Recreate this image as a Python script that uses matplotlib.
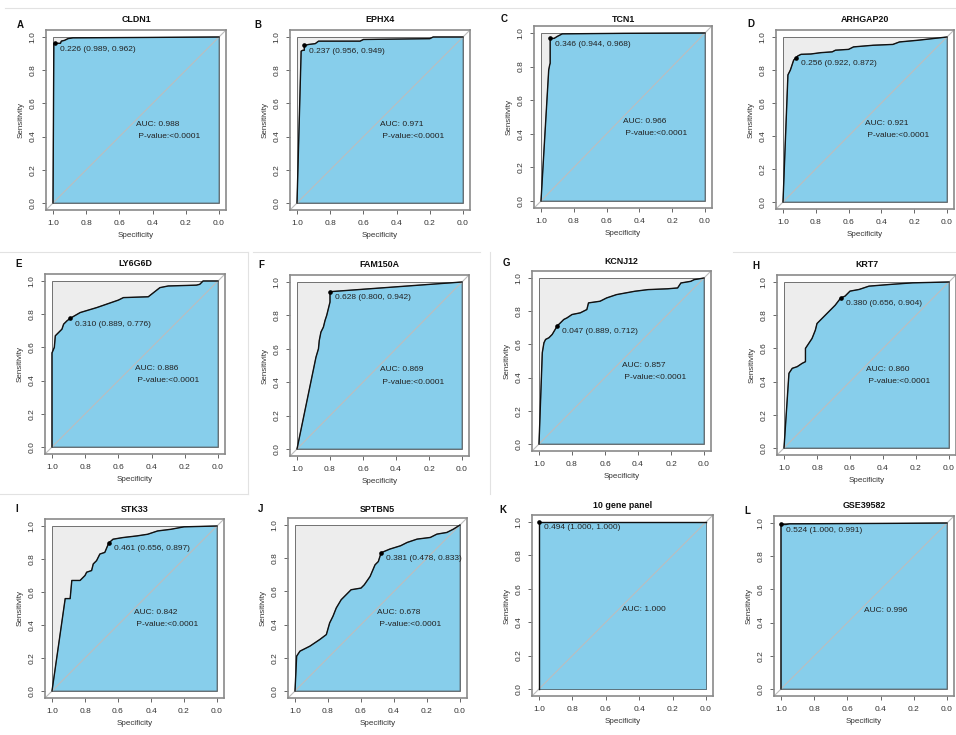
import matplotlib
matplotlib.use("Agg")
import matplotlib.pyplot as plt
import numpy as np

plt.rcParams['font.family'] = ['Liberation Sans', 'DejaVu Sans']

# ROC curves (specificity, sensitivity)
cldn1_spec = [1.0, 0.995, 0.989, 0.955, 0.95, 0.93, 0.91, 0.88, 0.5, 0.0]
cldn1_sens = [0.0, 0.96, 0.962, 0.962, 0.975, 0.98, 0.99, 0.995, 0.997, 1.0]

ephx4_spec = [1.0, 0.975, 0.965, 0.956, 0.956, 0.93, 0.89, 0.87, 0.62, 0.60, 0.20, 0.18, 0.0]
ephx4_sens = [0.0, 0.915, 0.92, 0.92, 0.949, 0.955, 0.96, 0.975, 0.975, 0.985, 0.99, 1.0, 1.0]

tcn1_spec = [1.0, 0.953, 0.947, 0.944, 0.944, 0.92, 0.90, 0.87, 0.5, 0.0]
tcn1_sens = [0.0, 0.78, 0.81, 0.82, 0.968, 0.968, 0.98, 0.995, 0.998, 1.0]

arhgap20_spec = [1.0, 0.97, 0.965, 0.955, 0.945, 0.935, 0.922, 0.91, 0.89, 0.83, 0.77, 0.70,
                 0.68, 0.60, 0.57, 0.45, 0.33, 0.29, 0.18, 0.0]
arhgap20_sens = [0.0, 0.77, 0.78, 0.80, 0.83, 0.86, 0.872, 0.885, 0.895, 0.897, 0.905, 0.91,
                 0.92, 0.925, 0.94, 0.95, 0.955, 0.97, 0.98, 1.0]

ly6g6d_spec = [1.0, 1.0, 0.986, 0.98, 0.96, 0.94, 0.93, 0.91, 0.889, 0.83, 0.73, 0.60, 0.57,
               0.42, 0.35, 0.30, 0.13, 0.11, 0.09, 0.0]
ly6g6d_sens = [0.0, 0.567, 0.60, 0.67, 0.69, 0.71, 0.74, 0.76, 0.776, 0.81, 0.84, 0.885, 0.90,
               0.905, 0.96, 0.97, 0.975, 0.98, 1.0, 1.0]

fam150a_spec = [1.0, 0.885, 0.87, 0.865, 0.855, 0.84, 0.83, 0.82, 0.81, 0.80, 0.80, 0.0]
fam150a_sens = [0.0, 0.55, 0.60, 0.65, 0.70, 0.73, 0.77, 0.80, 0.84, 0.88, 0.942, 1.0]

kcnj12_spec = [1.0, 0.98, 0.97, 0.96, 0.94, 0.92, 0.889, 0.87, 0.85, 0.83, 0.80, 0.75, 0.71,
               0.70, 0.63, 0.59, 0.53, 0.42, 0.34, 0.22, 0.16, 0.14, 0.08, 0.06, 0.0]
kcnj12_sens = [0.0, 0.55, 0.61, 0.63, 0.64, 0.66, 0.712, 0.73, 0.75, 0.76, 0.78, 0.79, 0.81,
               0.85, 0.86, 0.88, 0.90, 0.92, 0.93, 0.935, 0.94, 0.97, 0.98, 0.99, 1.0]

krt7_spec = [1.0, 0.97, 0.95, 0.92, 0.89, 0.87, 0.87, 0.85, 0.83, 0.81, 0.80, 0.78, 0.75, 0.73,
             0.71, 0.69, 0.656, 0.63, 0.60, 0.545, 0.485, 0.36, 0.22, 0.0]
krt7_sens = [0.0, 0.45, 0.48, 0.49, 0.51, 0.52, 0.60, 0.63, 0.66, 0.71, 0.75, 0.77, 0.80, 0.82,
             0.84, 0.86, 0.904, 0.915, 0.945, 0.955, 0.975, 0.985, 0.995, 1.0]

stk33_spec = [1.0, 0.92, 0.89, 0.88, 0.83, 0.80, 0.79, 0.76, 0.75, 0.73, 0.71, 0.68, 0.656,
              0.63, 0.57, 0.485, 0.42, 0.36, 0.28, 0.20, 0.0]
stk33_sens = [0.0, 0.56, 0.56, 0.67, 0.67, 0.70, 0.72, 0.73, 0.77, 0.79, 0.83, 0.84, 0.897,
              0.92, 0.93, 0.94, 0.95, 0.97, 0.98, 0.995, 1.0]

sptbn5_spec = [1.0, 0.99, 0.97, 0.91, 0.85, 0.81, 0.79, 0.77, 0.75, 0.72, 0.69, 0.66, 0.60,
               0.58, 0.545, 0.515, 0.495, 0.478, 0.425, 0.36, 0.32, 0.26, 0.18, 0.14, 0.08,
               0.04, 0.0]
sptbn5_sens = [0.0, 0.21, 0.24, 0.27, 0.31, 0.34, 0.41, 0.45, 0.50, 0.55, 0.58, 0.61, 0.62,
               0.64, 0.69, 0.76, 0.78, 0.833, 0.855, 0.875, 0.895, 0.915, 0.925, 0.945, 0.955,
               0.975, 1.0]

panel10_spec = [1.0, 1.0, 0.0]
panel10_sens = [0.0, 1.0, 1.0]

gse39582_spec = [1.0, 1.0, 0.97, 0.95, 0.30, 0.0]
gse39582_sens = [0.0, 0.991, 0.991, 0.995, 0.998, 1.0]

titles = ['CLDN1', 'EPHX4', 'TCN1', 'ARHGAP20', 'LY6G6D', 'FAM150A',
          'KCNJ12', 'KRT7', 'STK33', 'SPTBN5', '10 gene panel', 'GSE39582']
letters = ['A', 'B', 'C', 'D', 'E', 'F', 'G', 'H', 'I', 'J', 'K', 'L']
auc_values = [0.988, 0.971, 0.966, 0.921, 0.886, 0.869, 0.857, 0.860, 0.842, 0.678, 1.000, 0.996]
show_pvalue = [True] * 10 + [False, False]
cut_thresholds = [0.226, 0.237, 0.346, 0.256, 0.310, 0.628, 0.047, 0.380, 0.461, 0.381, 0.494, 0.524]
cut_spec = [0.989, 0.956, 0.944, 0.922, 0.889, 0.800, 0.889, 0.656, 0.656, 0.478, 1.000, 1.000]
cut_sens = [0.962, 0.949, 0.968, 0.872, 0.776, 0.942, 0.712, 0.904, 0.897, 0.833, 1.000, 0.991]

curves = [(cldn1_spec, cldn1_sens), (ephx4_spec, ephx4_sens), (tcn1_spec, tcn1_sens),
          (arhgap20_spec, arhgap20_sens), (ly6g6d_spec, ly6g6d_sens), (fam150a_spec, fam150a_sens),
          (kcnj12_spec, kcnj12_sens), (krt7_spec, krt7_sens), (stk33_spec, stk33_sens),
          (sptbn5_spec, sptbn5_sens), (panel10_spec, panel10_sens), (gse39582_spec, gse39582_sens)]

# layout in pixels: data square (x at spec 1.0, x at spec 0.0, y at sens 1.0, y at sens 0.0)
W, H = 956, 735
boxes = [(53, 219, 37, 203), (297, 463, 37, 203), (541, 705, 33, 201), (783, 947, 37, 202),
         (52, 218, 281, 447), (297, 462, 282, 449), (539, 704, 278, 444), (784, 949, 282, 448),
         (52, 217, 526, 691), (295, 460, 525, 691), (539, 706, 522, 689), (781, 947, 523, 689)]
title_y = [19, 19, 19, 19, 264, 265, 261, 265, 509, 509, 506, 506]
letter_xy = [(20, 25), (258, 25), (504, 19), (751, 24), (19, 264), (261, 265),
             (506, 263), (756, 266), (17, 509), (261, 509), (503, 510), (747, 511)]

fig = plt.figure(figsize=(W / 100, H / 100), dpi=100)

# faint borders of the pasted panels
for (x0, x1, y0, y1) in [(5, 956, 8, 8), (0, 248, 252, 252), (253, 480, 252, 252),
                         (733, 956, 252, 252), (248, 248, 252, 494), (0, 248, 494, 494),
                         (490, 490, 252, 494)]:
    fig.add_artist(plt.Line2D([x0 / W, x1 / W], [1 - y0 / H, 1 - y1 / H],
                              color='#e2e2e2', lw=0.8))

ticks = [1.0, 0.8, 0.6, 0.4, 0.2, 0.0]
tick_text = ['%.1f' % t for t in ticks]

for i in range(12):
    xl, xr, yt, yb = boxes[i]
    padx = 0.04 * (xr - xl)
    pady = 0.04 * (yb - yt)
    ax = fig.add_axes([(xl - padx) / W, 1 - (yb + pady) / H,
                       (xr - xl) * 1.08 / W, (yb - yt) * 1.08 / H])
    ax.set_xlim(1.04, -0.04)
    ax.set_ylim(-0.04, 1.04)

    spec, sens = curves[i]
    ax.fill([0, 0, 1, 1], [0, 1, 1, 0], facecolor='#ededed', edgecolor='#707070', lw=0.7)
    ax.fill(list(spec) + [0.0], list(sens) + [0.0], facecolor='#87ceeb',
            edgecolor='#5a6e78', lw=0.6)
    ax.plot([1.04, -0.04], [-0.04, 1.04], color='#bdbdbd', lw=0.8)
    ax.plot(spec, sens, color='#111111', lw=1.0)

    ax.plot(cut_spec[i], cut_sens[i], 'o', color='black', ms=2.3)
    ax.annotate('%.3f (%.3f, %.3f)' % (cut_thresholds[i], cut_spec[i], cut_sens[i]),
                (cut_spec[i], cut_sens[i]), xytext=(3.6, -4.2), textcoords='offset points',
                ha='left', va='center', fontsize=6, color='#222222')

    ax.text(0.5, 0.475, 'AUC: %.3f' % auc_values[i], ha='left', va='center',
            fontsize=6, color='#222222')
    if show_pvalue[i]:
        ax.text(0.5, 0.40, ' P-value:<0.0001', ha='left', va='center',
                fontsize=6, color='#222222')

    ax.set_xticks(ticks)
    ax.set_xticklabels(tick_text)
    ax.set_yticks(ticks[::-1])
    ax.set_yticklabels(tick_text[::-1], rotation=90, va='center')
    ax.tick_params(direction='out', length=3.2, width=0.7, color='#666666',
                   labelsize=6, labelcolor='#333333', pad=4)
    for sp in ax.spines.values():
        sp.set_color('#8a8a8a')
        sp.set_linewidth(1.2)
    ax.set_xlabel('Specificity', fontsize=5.8, color='#333333', labelpad=4)
    ax.set_ylabel('Sensitivity', fontsize=5.8, color='#333333', labelpad=3.5)

    fig.text((xl + xr) / 2 / W, 1 - title_y[i] / H, titles[i], ha='center', va='center',
             fontsize=6.4, fontweight='bold', color='#111111')
    lx, ly = letter_xy[i]
    fig.text(lx / W, 1 - ly / H, letters[i], ha='center', va='center',
             fontsize=7, fontweight='bold', color='#111111')

fig.savefig('out.png', dpi=100)
